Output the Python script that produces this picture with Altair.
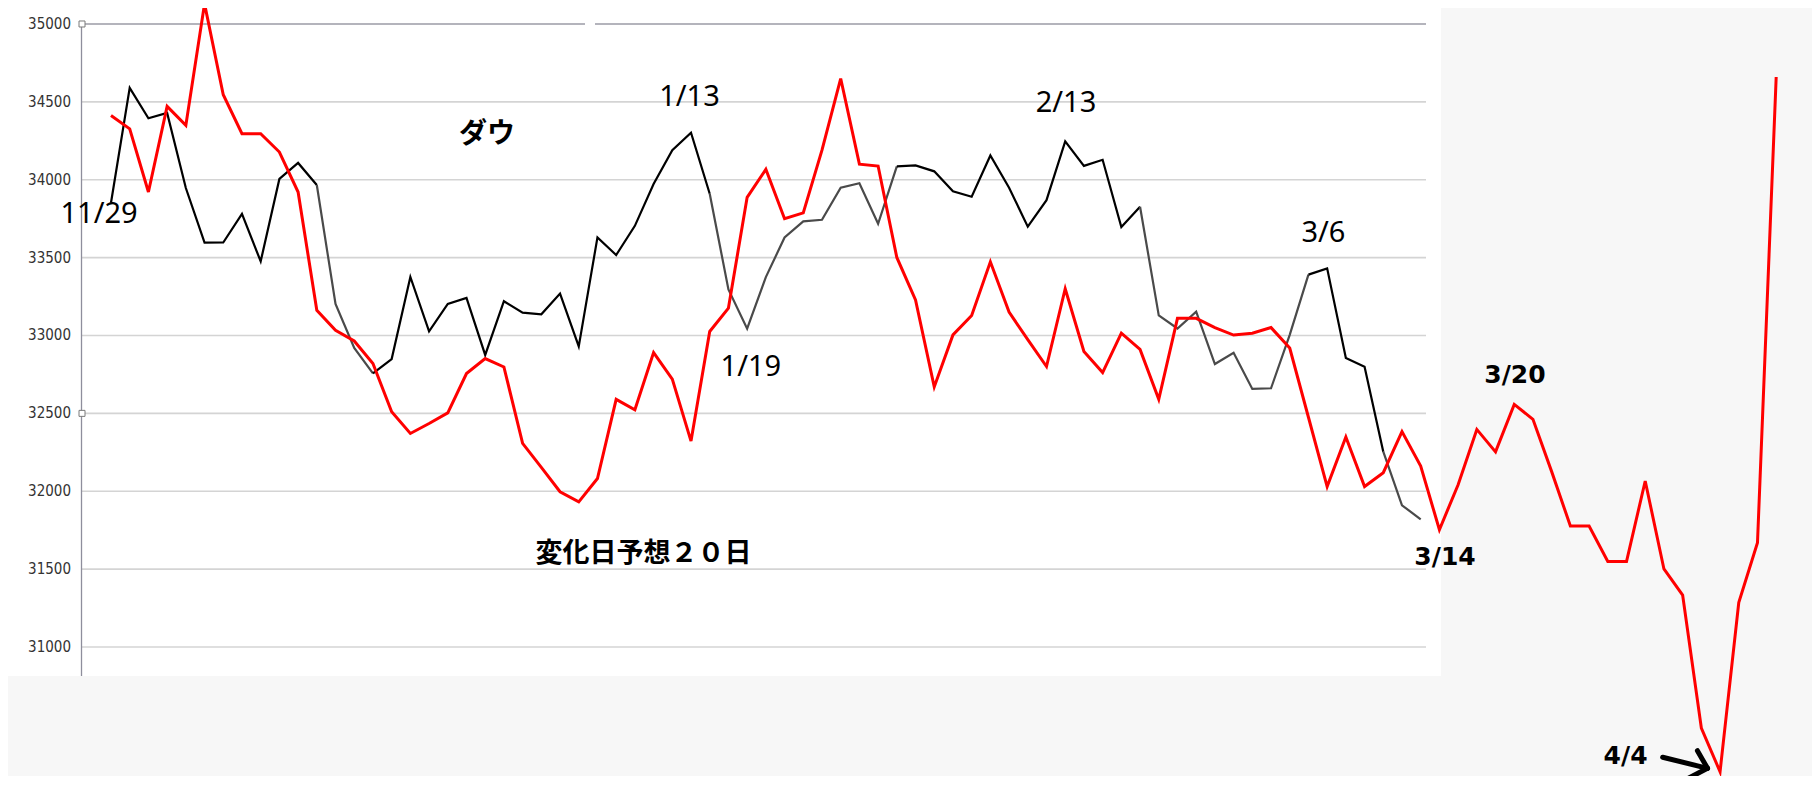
import altair as alt
import pandas as pd

# ---- data (x = trading-day index from 11/29) ----
dow = [33852, 34590, 34395, 34429, 33947, 33596, 33597, 33781, 33476, 34005,
       34108, 33966, 33202, 32920, 32757, 32849, 33376, 33027, 33203, 33241,
       32875, 33220, 33147, 33136, 33269, 32930, 33630, 33517, 33704, 33973,
       34189, 34302, 33910, 33296, 33044, 33375, 33629, 33733, 33743, 33949,
       33978, 33717, 34086, 34092, 34054, 33926, 33891, 34156, 33949, 33699,
       33869, 34246, 34089, 34128, 33697, 33827, 33129, 33045, 33153, 32817,
       32889, 32657, 32661, 33004, 33391, 33431, 32856, 32799, 32254, 31910,
       31820]

forecast = [34413, 34327, 33921, 34471, 34349, 35130, 34546, 34296, 34296, 34178,
            33921, 33162, 33034, 32965, 32820, 32510, 32371, 32435, 32503, 32756,
            32852, 32798, 32307, 32153, 31997, 31932, 32082, 32590, 32523, 32890,
            32720, 32322, 33026, 33176, 33887, 34067, 33750, 33787, 34190, 34650,
            34100, 34088, 33501, 33228, 32670, 33004, 33128, 33473, 33150, 32973,
            32801, 33300, 32898, 32762, 33015, 32911, 32590, 33110, 33110, 33051,
            33003, 33015, 33051, 32919, 32475, 32030, 32349, 32030, 32119, 32383,
            32162, 31753, 32042, 32397, 32253, 32558, 32462, 32126, 31777, 31777,
            31549, 31549, 32066, 31501, 31333, 30480, 30199, 31285, 31669, 34660]

# stretches of the Dow line that are drawn in dark grey in the picture
gray_runs = [(11, 14), (32, 42), (55, 64), (68, 70)]

tick_values = [31000, 31500, 32000, 32500, 33000, 33500, 34000, 34500, 35000]
tick_labels = ["31000", "31500", "32000", "32500", "33000", "33500", "34000", "34500", "35000"]
handle_values = [35000, 32500]

reg_text = ["11/29", "1/13", "1/19", "2/13", "3/6"]
reg_x = [-0.64, 30.92, 34.2, 51.04, 64.8]
reg_y = [33777, 34534, 32795, 34490, 33658]

bold_text = ["3/14", "3/20", "4/4"]
bold_x = [71.3, 75.04, 80.95]
bold_y = [31575, 32748, 30300]

jp_text = ["ダウ", "変化日予想２０日"]
jp_x = [20.1, 28.46]
jp_y = [34290, 31597]
jp_size = [28, 27]

arrow_x = [82.93, 84.79, 84.3]
arrow_y = [30292, 30334, 30157]
arrow_x2 = [85.33, 85.33, 85.33]
arrow_y2 = [30221, 30221, 30221]

# ---- tables ----
runs = []
prev = 0
for a, b in gray_runs:
    if a > prev:
        runs.append((prev, a, "#000000"))
    runs.append((a, b, "#4a4a4a"))
    prev = b
if prev < len(dow) - 1:
    runs.append((prev, len(dow) - 1, "#000000"))

dow_rows = []
for rid, (a, b, c) in enumerate(runs):
    for k in range(a, b + 1):
        dow_rows.append({"i": k, "v": dow[k], "run": rid, "col": c})
df_dow = pd.DataFrame(dow_rows)
df_red = pd.DataFrame({"i": list(range(len(forecast))), "v": forecast})
df_grid = pd.DataFrame({"v": [t for t in tick_values if t != 35000]})
df_top = pd.DataFrame({"v": [35000]})
df_ticks = pd.DataFrame({"v": tick_values, "t": tick_labels})
df_handles = pd.DataFrame({"v": handle_values})
df_reg = pd.DataFrame({"t": reg_text, "i": reg_x, "v": reg_y})
df_bold = pd.DataFrame({"t": bold_text, "i": bold_x, "v": bold_y})
df_jp = pd.DataFrame({"t": jp_text, "i": jp_x, "v": jp_y, "s": jp_size})
df_arrow = pd.DataFrame({"i": arrow_x, "v": arrow_y, "i2": arrow_x2, "v2": arrow_y2})
df_one = pd.DataFrame({"a": [0]})

xs = alt.Scale(domain=[-1.6034, 90.914], nice=False, zero=False)
ys = alt.Scale(domain=[30223.1, 35102.7], nice=False, zero=False)

X = alt.X("i:Q", scale=xs, axis=None)
Ynone = alt.Y("v:Q", scale=ys, axis=None)

plot_bg = alt.Chart(df_one).mark_rect(color="white").encode(
    x=alt.value(-78), x2=alt.value(1360), y=alt.value(-4), y2=alt.value(668))

grid = alt.Chart(df_grid).mark_rule(color="#d4d4d4", strokeWidth=1.6).encode(
    y=Ynone, x=alt.value(0), x2=alt.value(1345))

top1 = alt.Chart(df_top).mark_rule(color="#b4b4bc", strokeWidth=2).encode(
    y=Ynone, x=alt.value(0), x2=alt.value(504))
top2 = alt.Chart(df_top).mark_rule(color="#b4b4bc", strokeWidth=2).encode(
    y=Ynone, x=alt.value(514), x2=alt.value(1345))

axis_line = alt.Chart(df_top).mark_rule(color="#8e8e9c", strokeWidth=1.3).encode(
    x=alt.value(0.5), y=Ynone, y2=alt.value(668))

ylabels = alt.Chart(df_ticks).mark_text(
    font="Liberation Sans Narrow, DejaVu Sans Condensed, sans-serif",
    fontSize=15, color="#333333", align="right", baseline="middle").encode(
    x=alt.value(-10), y=Ynone, text="t:N")

handles = alt.Chart(df_handles).mark_point(
    shape="square", size=36, filled=True, fill="white", stroke="#7a7a7a",
    strokeWidth=1, opacity=1).encode(x=alt.value(1), y=Ynone)

dow_line = alt.Chart(df_dow).mark_line(strokeWidth=2.2).encode(
    x=X, y=Ynone, detail="run:N", order="i:Q",
    color=alt.Color("col:N", scale=None))

red_line = alt.Chart(df_red).mark_line(color="#ff0000", strokeWidth=3).encode(
    x=X, y=Ynone, order="i:Q")

reg = alt.Chart(df_reg).mark_text(
    font="Noto Sans", fontSize=29, color="#000000", align="center",
    baseline="middle").encode(x=X, y=Ynone, text="t:N")

bold = alt.Chart(df_bold).mark_text(
    font="DejaVu Sans", fontSize=25, fontWeight="bold", color="#000000",
    align="center", baseline="middle").encode(x=X, y=Ynone, text="t:N")

jp = alt.Chart(df_jp).mark_text(
    font="Noto Sans CJK JP", fontWeight="bold", color="#000000",
    align="center", baseline="middle").encode(
    x=X, y=Ynone, text="t:N", size=alt.Size("s:Q", scale=None, legend=None))

arrow = alt.Chart(df_arrow).mark_rule(color="#000000", strokeWidth=5,
                                      strokeCap="round").encode(
    x=X, y=Ynone, x2="i2:Q", y2="v2:Q")

chart = alt.layer(
    plot_bg, grid, top1, top2, axis_line, ylabels, handles, dow_line, red_line,
    reg, bold, jp, arrow
).properties(
    width=1731, height=760,
    padding={"left": 73, "top": 0, "right": 0, "bottom": 8},
    autosize=alt.AutoSizeParams(type="none"),
    background="#f7f7f7",
).configure_view(stroke=None)

chart.save("out.html", embed_options={"renderer": "svg", "actions": False})
